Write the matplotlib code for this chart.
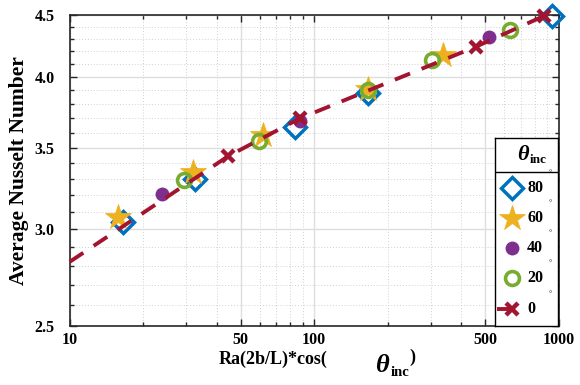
import matplotlib
matplotlib.use("Agg")
import matplotlib.pyplot as plt
import numpy as np
from matplotlib.ticker import FixedLocator, FixedFormatter, NullFormatter

# ---------------- data ----------------
x80 = [16.6, 32.5, 83.5, 166, 945]
y80 = [3.045, 3.298, 3.642, 3.88, 4.49]
x60 = [15.8, 32.0, 61.9, 166, 335.5]
y60 = [3.073, 3.345, 3.586, 3.91, 4.171]
x40 = [23.8, 87.5, 520]
y40 = [3.208, 3.684, 4.313]
x20 = [29.4, 59.6, 166.4, 304, 632]
y20 = [3.294, 3.545, 3.904, 4.131, 4.373]
x0 = [10, 44.5, 87.5, 459, 873]
y0 = [2.822, 3.445, 3.70, 4.236, 4.49]
legend_labels = ["80", "60", "40", "20", "0"]
xticks = [10, 50, 100, 500, 1000]
xtick_labels = ["10", "50", "100", "500", "1000"]
yticks = [2.5, 3.0, 3.5, 4.0, 4.5]
ytick_labels = ["2.5", "3.0", "3.5", "4.0", "4.5"]

# ---------------- style ----------------
plt.rcParams['font.family'] = ['Liberation Serif', 'DejaVu Serif']
plt.rcParams['font.weight'] = 'bold'
plt.rcParams['mathtext.fontset'] = 'custom'
plt.rcParams['mathtext.rm'] = 'Liberation Serif'
plt.rcParams['mathtext.it'] = 'Liberation Serif:italic'
plt.rcParams['mathtext.bf'] = 'Liberation Serif:bold'

C80, C60, C40, C20, C0 = '#0072BD', '#EDB120', '#7E2F8E', '#77AC30', '#A2142F'
styles = {
    "80": dict(marker='D', ms=11.5, mfc='none', mec=C80, mew=2.5, ls='none'),
    "60": dict(marker='*', ms=19, mfc=C60, mec=C60, mew=0.5, ls='none'),
    "40": dict(marker='o', ms=9, mfc=C40, mec=C40, mew=1.0, ls='none', ),
    "20": dict(marker='o', ms=10, mfc='none', mec=C20, mew=2.6, ls='none'),
    "0": dict(marker='x', ms=9, mfc=C0, mec=C0, mew=3.2, color=C0, lw=2.8,
              ls=(0, (4.2, 3.2))),
}

fig = plt.figure(figsize=(5.8, 3.85), dpi=100)
ax = fig.add_axes([69.7/580, 1-326/385, (558.5-69.7)/580, (326-14.7)/385])

ax.set_xscale('log')
ax.set_yscale('log')
ax.set_xlim(10, 1000)
ax.set_ylim(2.5, 4.5)

ax.plot(x80, y80, zorder=3, clip_on=False, **styles["80"])
ax.plot(x60, y60, zorder=4, clip_on=False, **styles["60"])
ax.plot(x40, y40, zorder=5, clip_on=False, **styles["40"])
ax.plot(x20, y20, zorder=6, clip_on=False, **styles["20"])
ax.plot(x0, y0, zorder=7, markevery=[1, 2, 3, 4], clip_on=False, **styles["0"])

# ticks
ax.xaxis.set_major_locator(FixedLocator(xticks))
ax.xaxis.set_major_formatter(FixedFormatter(xtick_labels))
xminor = [v for d in (10, 100) for v in np.arange(2, 10) * d if v not in xticks]
ax.xaxis.set_minor_locator(FixedLocator(xminor))
ax.xaxis.set_minor_formatter(NullFormatter())
ax.yaxis.set_major_locator(FixedLocator(yticks))
ax.yaxis.set_major_formatter(FixedFormatter(ytick_labels))
yminor = [round(v, 1) for v in np.arange(2.6, 4.45, 0.1) if round(v, 1) not in yticks]
ax.yaxis.set_minor_locator(FixedLocator(yminor))
ax.yaxis.set_minor_formatter(NullFormatter())

ax.tick_params(which='both', direction='in', top=True, right=True,
               labelsize=11.5, width=1.0, color='#262626')
ax.tick_params(which='major', length=5)
ax.tick_params(which='minor', length=3)
for lab in ax.get_xticklabels() + ax.get_yticklabels():
    lab.set_fontweight('bold')
ax.tick_params(axis='x', pad=4)
ax.tick_params(axis='y', pad=11)

ax.grid(which='major', color='#dedede', lw=1.0, ls='-')
ax.grid(which='minor', color='#d0d0d0', lw=0.7, ls=(0, (1, 2)))
ax.set_axisbelow(True)
for sp in ax.spines.values():
    sp.set_linewidth(1.2)
    sp.set_color('#262626')

ax.set_ylabel("Average Nusselt Number", fontsize=15.5, fontweight='bold', labelpad=4)

# x label pieces
fig.text(273/580, 1-359/385, "Ra(2b/L)*cos(", fontsize=13, fontweight='bold',
         ha='center', va='center')
fig.text(375/580, 1-365/385, r"$\theta$", fontsize=19, ha='left', va='center')
fig.text(391/580, 1-373/385, "inc", fontsize=10.5, fontweight='bold', ha='left', va='center')
fig.text(409/580, 1-357/385, ")", fontsize=13, fontweight='bold', ha='left', va='center')

# ---------------- legend box ----------------
lg = fig.add_axes([495/580, 1-326/385, 63/580, (326-138)/385], zorder=10)
lg.set_xlim(0, 63)
lg.set_ylim(188, 0)
lg.set_xticks([])
lg.set_yticks([])
lg.set_facecolor('white')
for sp in lg.spines.values():
    sp.set_linewidth(1.0)
    sp.set_color('black')
lg.axhline(34, color='black', lw=1.0)
lg.text(29, 17, r"$\theta$", fontsize=16, ha='center', va='center')
lg.text(35, 22, "inc", fontsize=9.5, fontweight='bold', ha='left', va='center')
ypos = [50, 80, 110, 140, 171]
for lab, yy in zip(legend_labels, ypos):
    st = dict(styles[lab])
    if lab == "0":
        lg.plot([2, 18], [yy, yy], color=C0, lw=2.8, solid_capstyle='butt')
        st['ls'] = 'none'
    lg.plot([17], [yy], **st)
    lg.text(32, yy, lab, fontsize=11.5, fontweight='bold', ha='left', va='center')
    lg.text(55, yy - 15, "°", fontsize=6, ha='center', va='center', color='#444444')

fig.savefig("out.png", dpi=100)
